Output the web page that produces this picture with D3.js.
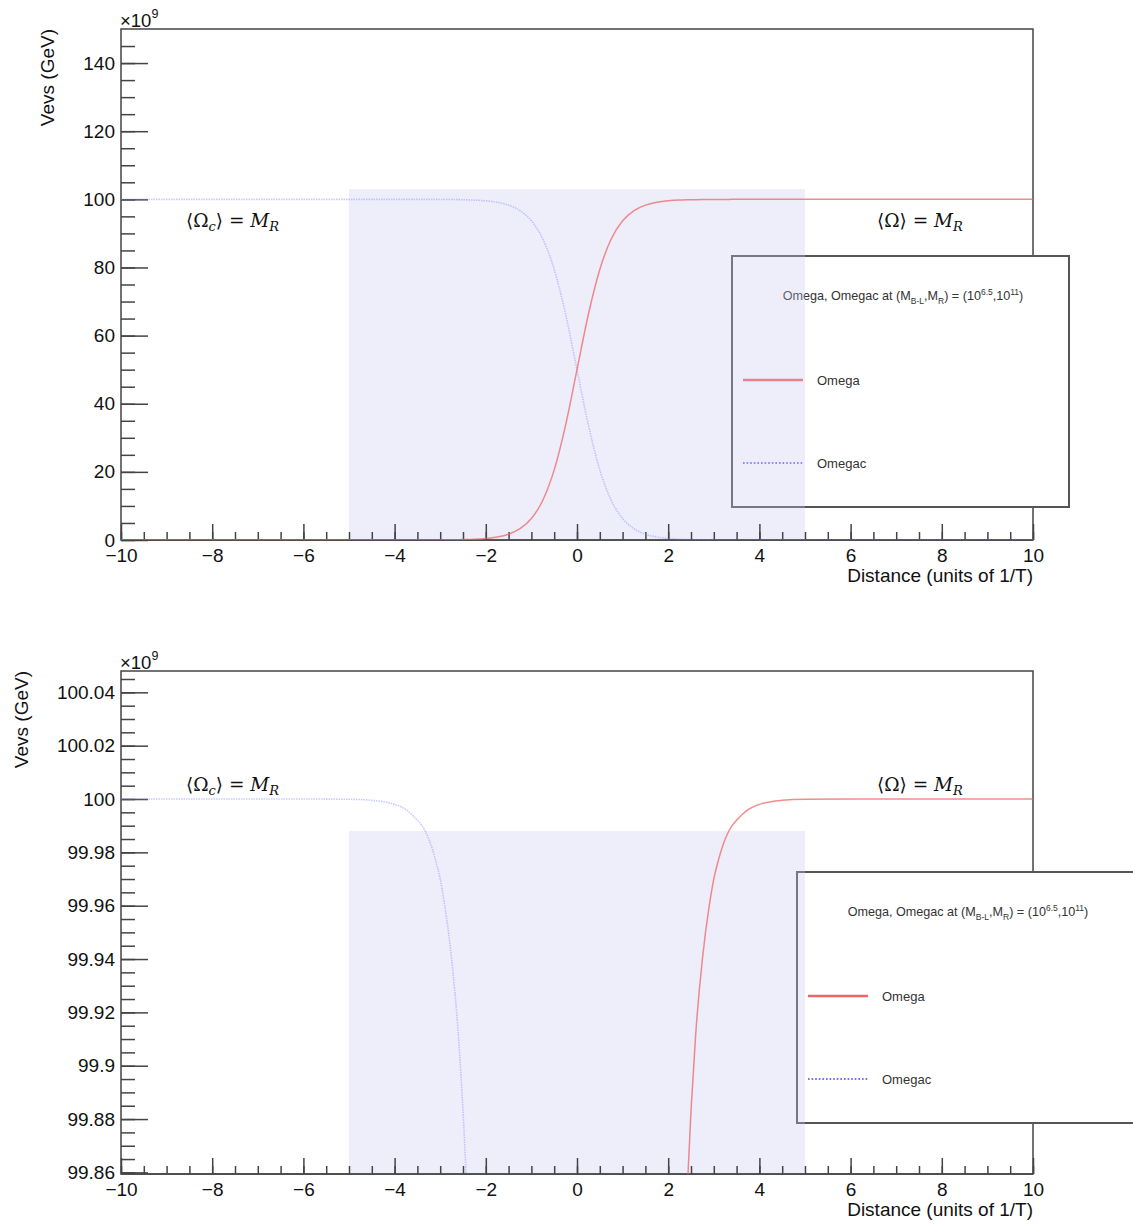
<!DOCTYPE html>
<meta charset="utf-8">
<body>
<script src="https://cdn.jsdelivr.net/npm/d3@7"></script>
<style>
    html, body {
        margin: 0;
        background: #fff;
    }
    text {
        font-family: "Liberation Sans", Arial, sans-serif;
        fill: #111;
    }
</style>
<script>
// distance in units of 1/T, vevs in units of 1e9 GeV
var distance = [-10, -6, -5, -4.5, -4.25, -4, -3.75, -3.5, -3.4, -3.25, -3.1, -3, -2.9, -2.75, -2.6, -2.5, -2.4, -2.25,
    -2, -1.75, -1.5, -1.25, -1, -0.75, -0.5, -0.25, 0, 0.25, 0.5, 0.75, 1, 1.25, 1.5, 1.75, 2,
    2.25, 2.4, 2.5, 2.6, 2.75, 2.9, 3, 3.1, 3.25, 3.4, 3.5, 3.75, 4, 4.25, 4.5, 5, 6, 10];

var omega = [0, 0, 0.0001, 0.0005, 0.001, 0.002, 0.004, 0.008, 0.010, 0.015, 0.023, 0.030, 0.040, 0.060, 0.089, 0.117, 0.153, 0.229,
    0.450, 0.879, 1.71, 3.31, 6.30, 11.66, 20.58, 33.73, 50, 66.27, 79.42, 88.34, 93.70, 96.69, 98.29, 99.121, 99.550,
    99.771, 99.847, 99.883, 99.911, 99.940, 99.960, 99.970, 99.977, 99.985, 99.990, 99.992, 99.996, 99.998, 99.999, 99.9995, 99.9999, 100, 100];

var omegac = [100, 100, 99.9999, 99.9995, 99.999, 99.998, 99.996, 99.992, 99.990, 99.985, 99.977, 99.970, 99.960, 99.940, 99.911, 99.883, 99.847, 99.771,
    99.550, 99.121, 98.29, 96.69, 93.70, 88.34, 79.42, 66.27, 50, 33.73, 20.58, 11.66, 6.30, 3.31, 1.71, 0.879, 0.450,
    0.229, 0.153, 0.117, 0.089, 0.060, 0.040, 0.030, 0.023, 0.015, 0.010, 0.008, 0.004, 0.002, 0.001, 0.0005, 0.0001, 0, 0];

var xTicks = [-10, -8, -6, -4, -2, 0, 2, 4, 6, 8, 10];
var yTicksTop = [0, 20, 40, 60, 80, 100, 120, 140];
var yTicksBottom = [99.86, 99.88, 99.9, 99.92, 99.94, 99.96, 99.98, 100, 100.02, 100.04];
var seriesNames = ["Omega", "Omegac"];

var redCol = "#ee6666", blueCol = "#8a8aff";

var svg = d3.select("body").append("svg")
    .attr("width", 1133)
    .attr("height", 1230);

var panels = [
    {left: 121, right: 1033, top: 29, bottom: 540, yDomain: [0, 150], yTicks: yTicksTop, yMinor: 5,
        band: [0, 103], legend: [732, 256], titleX: 47, annoY: 227},
    {left: 121, right: 1033, top: 671, bottom: 1174, yDomain: [99.8594, 100.048], yTicks: yTicksBottom, yMinor: 0.005,
        band: [99.8594, 99.988], legend: [797, 872], titleX: 21, annoY: 791}
];

panels.forEach(function(p, i) {
    var x = d3.scaleLinear().domain([-10, 10]).range([p.left, p.right]),
        y = d3.scaleLinear().domain(p.yDomain).range([p.bottom, p.top]);

    var g = svg.append("g");

    g.append("clipPath").attr("id", "clip" + i)
        .append("rect")
        .attr("x", p.left).attr("y", p.top)
        .attr("width", p.right - p.left).attr("height", p.bottom - p.top);

    // frame
    g.append("rect")
        .attr("x", p.left).attr("y", p.top)
        .attr("width", p.right - p.left).attr("height", p.bottom - p.top)
        .attr("fill", "none")
        .attr("stroke", "#444")
        .attr("stroke-width", 1.5);

    // legend box (drawn before the band, the band lies over it)
    var lx = p.legend[0], ly = p.legend[1];
    var lg = g.append("g");
    lg.append("rect")
        .attr("x", lx).attr("y", ly)
        .attr("width", 337).attr("height", 251)
        .attr("fill", "#fff")
        .attr("stroke", "#555")
        .attr("stroke-width", 2);

    var t = lg.append("text")
        .attr("x", lx + 171).attr("y", ly + 44)
        .attr("text-anchor", "middle")
        .style("font-size", "12.6px")
        .style("fill", "#333");
    t.append("tspan").text("Omega, Omegac at (M");
    t.append("tspan").attr("dy", 4).style("font-size", "8.5px").text("B-L");
    t.append("tspan").attr("dy", -4).text(",M");
    t.append("tspan").attr("dy", 4).style("font-size", "8.5px").text("R");
    t.append("tspan").attr("dy", -4).text(") = (10");
    t.append("tspan").attr("dy", -5).style("font-size", "8.5px").text("6.5");
    t.append("tspan").attr("dy", 5).text(",10");
    t.append("tspan").attr("dy", -5).style("font-size", "8.5px").text("11");
    t.append("tspan").attr("dy", 5).text(")");

    seriesNames.forEach(function(name, k) {
        var yy = ly + 124 + k * 83;
        lg.append("line")
            .attr("x1", lx + 11).attr("x2", lx + 71)
            .attr("y1", yy).attr("y2", yy)
            .attr("stroke", k == 0 ? redCol : "#7070ff")
            .attr("stroke-width", k == 0 ? 2.5 : 2)
            .attr("stroke-dasharray", k == 0 ? null : "1.6,2");
        lg.append("text")
            .attr("x", lx + 85).attr("y", yy + 5)
            .style("font-size", "13px")
            .style("fill", "#333")
            .text(name);
    });

    // shaded band from -5 to 5
    g.append("rect")
        .attr("clip-path", "url(#clip" + i + ")")
        .attr("x", x(-5)).attr("y", y(p.band[1]))
        .attr("width", x(5) - x(-5)).attr("height", y(p.band[0]) - y(p.band[1]))
        .attr("fill", "#c8c8f2")
        .attr("fill-opacity", 0.3);

    // axes
    var xMinor = d3.range(-10, 10.01, 0.5),
        yMinor = d3.range(Math.ceil(p.yDomain[0] / p.yMinor) * p.yMinor, p.yDomain[1], p.yMinor);

    g.append("g")
        .attr("transform", "translate(0," + p.bottom + ")")
        .call(d3.axisBottom(x).tickValues(xMinor).tickSize(-8).tickFormat(""));
    g.append("g")
        .attr("transform", "translate(0," + p.bottom + ")")
        .call(d3.axisBottom(x).tickValues(xTicks).tickSize(-16).tickPadding(9));
    g.append("g")
        .attr("transform", "translate(" + p.left + ",0)")
        .call(d3.axisLeft(y).tickValues(yMinor).tickSize(-14).tickFormat(""));
    g.append("g")
        .attr("transform", "translate(" + p.left + ",0)")
        .call(d3.axisLeft(y).tickValues(p.yTicks).tickSize(-27).tickPadding(6)
            .tickFormat(function(d) { return +d.toFixed(2); }));

    g.selectAll(".domain").remove();
    g.selectAll(".tick line").attr("stroke", "#444").attr("stroke-width", 1.5);
    g.selectAll(".tick text").style("font-size", "19px").attr("fill", "#111")
        .style("font-family", "'Liberation Sans', Arial, sans-serif");

    // x axis line
    g.append("line")
        .attr("x1", p.left).attr("x2", p.right)
        .attr("y1", p.bottom).attr("y2", p.bottom)
        .attr("stroke", "#444").attr("stroke-width", 1.5);

    // titles
    g.append("text")
        .attr("x", p.right).attr("y", p.bottom + 42)
        .attr("text-anchor", "end")
        .style("font-size", "19px")
        .text("Distance (units of 1/T)");
    g.append("text")
        .attr("transform", "translate(" + p.titleX + "," + p.top + ") rotate(-90)")
        .attr("dy", "0.35em")
        .attr("text-anchor", "end")
        .style("font-size", "19px")
        .text("Vevs (GeV)");
    var ex = g.append("text")
        .attr("x", p.left - 1).attr("y", p.top - 2)
        .style("font-size", "18.5px");
    ex.append("tspan").text("\u00d710");
    ex.append("tspan").attr("dy", -9).style("font-size", "12.5px").text("9");

    // annotations
    [[186, true], [877, false]].forEach(function(a) {
        var at = g.append("text")
            .attr("x", a[0]).attr("y", p.annoY)
            .style("font-family", "'DejaVu Serif', 'Liberation Serif', serif")
            .style("font-size", "18.5px");
        at.append("tspan").text("\u27e8\u03a9");
        if (a[1]) at.append("tspan").attr("dy", 4).style("font-size", "13px").style("font-style", "italic").text("c");
        at.append("tspan").attr("dy", a[1] ? -4 : 0).text("\u27e9 = ");
        at.append("tspan").style("font-style", "italic").text("M");
        at.append("tspan").attr("dy", 4).style("font-size", "13px").style("font-style", "italic").text("R");
    });

    // curves
    var line = d3.line()
        .x(function(d) { return x(d[0]); })
        .y(function(d) { return y(d[1]); })
        .curve(d3.curveMonotoneX);

    var cg = g.append("g").attr("clip-path", "url(#clip" + i + ")");
    cg.append("path")
        .attr("d", line(d3.zip(distance, omegac)))
        .attr("fill", "none")
        .attr("stroke", blueCol)
        .attr("stroke-opacity", 0.45)
        .attr("stroke-width", 1.6)
        .attr("stroke-dasharray", "1.5,1");
    cg.append("path")
        .attr("d", line(d3.zip(distance, omega)))
        .attr("fill", "none")
        .attr("stroke", redCol)
        .attr("stroke-opacity", 0.75)
        .attr("stroke-width", 1.5);
});
</script>
